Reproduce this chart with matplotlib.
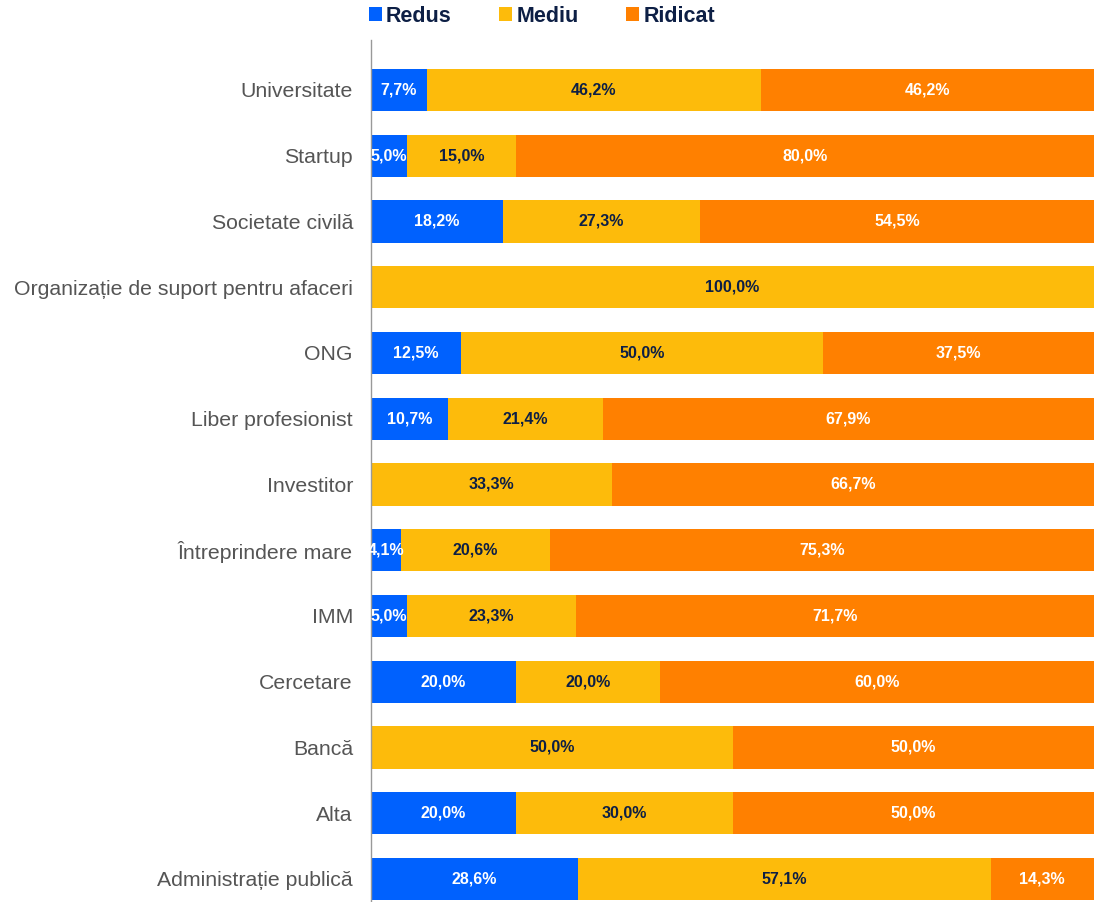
import matplotlib.pyplot as plt
import numpy as np
from matplotlib.patches import Patch

plt.rcParams['font.family'] = ['Liberation Sans', 'DejaVu Sans']

# categorii, de sus in jos
categories = ["Universitate", "Startup", "Societate civilă",
              "Organizație de suport pentru afaceri", "ONG", "Liber profesionist",
              "Investitor", "Întreprindere mare", "IMM", "Cercetare", "Bancă",
              "Alta", "Administrație publică"]
redus = [7.7, 5.0, 18.2, 0.0, 12.5, 10.7, 0.0, 4.1, 5.0, 20.0, 0.0, 20.0, 28.6]
mediu = [46.2, 15.0, 27.3, 100.0, 50.0, 21.4, 33.3, 20.6, 23.3, 20.0, 50.0, 30.0, 57.1]
ridicat = [46.2, 80.0, 54.5, 0.0, 37.5, 67.9, 66.7, 75.3, 71.7, 60.0, 50.0, 50.0, 14.3]

series_names = ["Redus", "Mediu", "Ridicat"]
colors = ["#0061FE", "#FDBB0B", "#FF8000"]
text_colors = ["white", "#0D1F45", "white"]

fig = plt.figure(figsize=(10.99, 9.02), dpi=100)
ax = fig.add_axes([371 / 1099, 0.0, (1094 - 371) / 1099, 862 / 902])

n = len(categories)
y = np.arange(n)[::-1]
left = np.zeros(n)
for vals, col, tcol in zip([redus, mediu, ridicat], colors, text_colors):
    vals = np.array(vals)
    ax.barh(y, vals, left=left, height=0.64, color=col, edgecolor='none')
    for yi, l, v in zip(y, left, vals):
        if v > 0:
            ax.text(l + v / 2, yi, f"{v:.1f}%".replace('.', ','), ha='center', va='center',
                    color=tcol, fontsize=11.5, fontweight='bold')
    left += vals

ax.set_xlim(0, 100)
ax.set_ylim(-0.35, n - 1 + 0.76)
ax.set_yticks(y)
ax.set_yticklabels(categories, fontsize=15.3, color='#555555')
ax.tick_params(axis='y', length=0, pad=13)
ax.set_xticks([])
for s in ['top', 'right', 'bottom']:
    ax.spines[s].set_visible(False)
ax.spines['left'].set_color('#999999')
ax.spines['left'].set_linewidth(1)

handles = [Patch(facecolor=c, edgecolor='none', label=s) for s, c in zip(series_names, colors)]
leg = fig.legend(handles=handles, loc='upper center', bbox_to_anchor=(0.493, 1.015), ncol=3,
                 frameon=False, handlelength=0.6, handleheight=0.6, handletextpad=0.2,
                 columnspacing=2.2, prop={'size': 15.5, 'weight': 'bold'})
for t in leg.get_texts():
    t.set_color('#0D1F45')

fig.savefig("out.png", dpi=100)
